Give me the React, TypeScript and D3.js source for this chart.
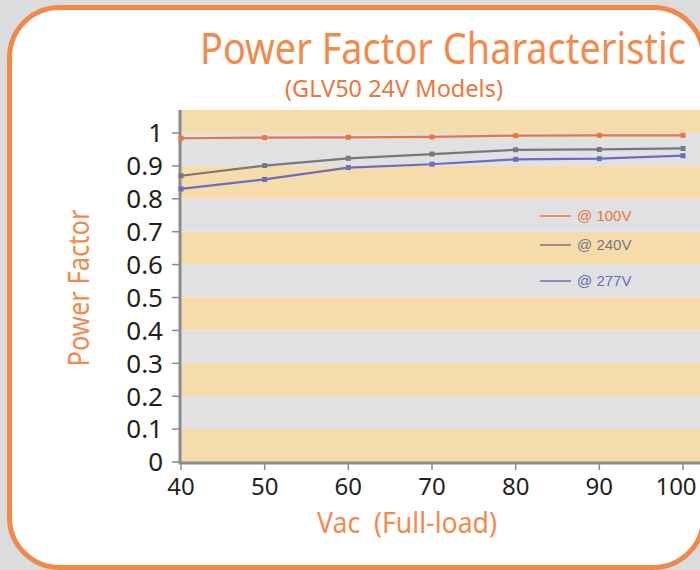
import React from "react";
import * as d3 from "d3";

// input voltage (Vac) on the x axis
const vac = [40, 50, 60, 70, 80, 90, 100];

// power factor readings per line voltage
const pf100 = [0.984, 0.986, 0.987, 0.988, 0.992, 0.993, 0.993];
const pf240 = [0.87, 0.901, 0.923, 0.936, 0.949, 0.95, 0.953];
const pf277 = [0.83, 0.859, 0.895, 0.905, 0.92, 0.922, 0.931];

const seriesNames = ["@ 100V", "@ 240V", "@ 277V"];
const seriesColors = ["#e8763d", "#77787b", "#6a6cc0"];

const yTicks = [0, 0.1, 0.2, 0.3, 0.4, 0.5, 0.6, 0.7, 0.8, 0.9, 1];
const yTickLabels = ["0", "0.1", "0.2", "0.3", "0.4", "0.5", "0.6", "0.7", "0.8", "0.9", "1"];

const FONT = "'Noto Sans', 'Open Sans', sans-serif";

export default function App() {
  const width = 700;
  const height = 570;

  const x = d3.scaleLinear().domain([40, 100]).range([181, 683]);
  const y = d3.scaleLinear().domain([0, 1]).range([462, 133]);
  const yTop = 1.07;
  const plotRight = 705;

  const series = [pf100, pf240, pf277].map((vals, i) => ({
    name: seriesNames[i],
    color: seriesColors[i],
    points: vals.map((v, j) => [vac[j], v] as [number, number]),
  }));

  const line = d3
    .line<[number, number]>()
    .x((d) => x(d[0]))
    .y((d) => y(d[1]));

  // alternating horizontal stripes, one per 0.1
  const bands = d3.range(0, 11).map((i) => ({
    lo: i / 10,
    hi: Math.min((i + 1) / 10, yTop),
    fill: i % 2 === 0 ? "#f6dbab" : "#e1e1e3",
  }));

  const legendY = [216, 245, 281];

  return (
    <svg
      width={width}
      height={height}
      style={{ position: "absolute", left: 0, top: 0, display: "block" }}
    >
      <rect x={0} y={0} width={width} height={height} fill="#dbdcdd" />
      <rect
        x={9.5}
        y={7.5}
        width={694}
        height={560}
        rx={50}
        ry={50}
        fill="#ffffff"
        stroke="#f0894b"
        strokeWidth={5}
      />

      <text
        x={200}
        y={64}
        fontFamily={FONT}
        fontSize={44}
        fill="#f38a4c"
        textLength={486}
        lengthAdjust="spacingAndGlyphs"
      >
        Power Factor Characteristic
      </text>
      <text
        x={285}
        y={97}
        fontFamily={FONT}
        fontSize={23}
        fill="#e8783f"
        textLength={218}
        lengthAdjust="spacingAndGlyphs"
      >
        (GLV50 24V Models)
      </text>

      {bands.map((b, i) => (
        <rect
          key={i}
          x={x(40)}
          y={y(b.hi)}
          width={plotRight - x(40)}
          height={y(b.lo) - y(b.hi)}
          fill={b.fill}
        />
      ))}

      {/* y axis */}
      <line x1={180} x2={180} y1={y(yTop)} y2={y(0) + 1} stroke="#8a8b8e" strokeWidth={3} />
      {yTicks.map((t, i) => (
        <g key={t}>
          <line x1={172} x2={180} y1={y(t)} y2={y(t)} stroke="#8a8b8e" strokeWidth={1.5} />
          <text
            x={163}
            y={y(t)}
            dy="0.36em"
            textAnchor="end"
            fontFamily={FONT}
            fontSize={26}
            fill="#231f20"
          >
            {yTickLabels[i]}
          </text>
        </g>
      ))}

      {/* x axis */}
      <line x1={178.5} x2={plotRight} y1={463} y2={463} stroke="#8a8b8e" strokeWidth={3} />
      {vac.map((v) => (
        <g key={v}>
          <line x1={x(v)} x2={x(v)} y1={463} y2={470} stroke="#8a8b8e" strokeWidth={1.5} />
          <text
            x={Math.min(x(v), 676)}
            y={495}
            textAnchor="middle"
            fontFamily={FONT}
            fontSize={24}
            fill="#231f20"
          >
            {v}
          </text>
        </g>
      ))}

      {series.map((s) => (
        <g key={s.name}>
          <path d={line(s.points) || ""} fill="none" stroke={s.color} strokeWidth={2.2} />
          {s.points.map((p, j) => (
            <rect
              key={j}
              x={x(p[0]) - 2.5}
              y={y(p[1]) - 2.5}
              width={5}
              height={5}
              fill={s.color}
            />
          ))}
        </g>
      ))}

      {/* legend */}
      {series.map((s, i) => (
        <g key={s.name}>
          <line
            x1={540}
            x2={571}
            y1={legendY[i]}
            y2={legendY[i]}
            stroke={s.color}
            strokeWidth={1.5}
          />
          <text
            x={577}
            y={legendY[i]}
            dy="0.35em"
            fontFamily="'Liberation Sans', Arial, sans-serif"
            fontSize={15}
            fill={s.color}
          >
            {s.name}
          </text>
        </g>
      ))}

      <text
        transform="translate(89,288) rotate(-90)"
        textAnchor="middle"
        fontFamily={FONT}
        fontSize={29}
        fill="#f38a4c"
        textLength={157}
        lengthAdjust="spacingAndGlyphs"
      >
        Power Factor
      </text>
      <text
        x={317}
        y={533}
        fontFamily={FONT}
        fontSize={29}
        fill="#f38a4c"
        textLength={180}
        lengthAdjust="spacingAndGlyphs"
        xmlSpace="preserve"
      >
        Vac  (Full-load)
      </text>
    </svg>
  );
}
